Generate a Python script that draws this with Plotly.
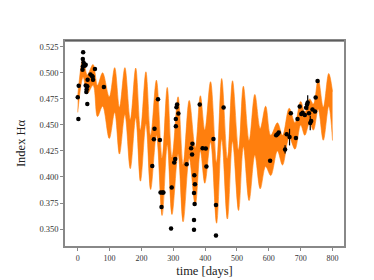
import plotly.graph_objects as go

# observations
obs_t = [0, 2, 3, 15, 16, 16, 17, 18, 20, 22, 25, 25, 27, 28, 30, 30, 31, 40, 45, 47, 48, 54, 82,
         234, 239, 241, 252, 258, 260, 263, 266, 269, 293, 295, 303, 306, 308, 308, 310, 312, 316,
         342, 356, 359, 360, 366, 368, 365, 367, 365, 365, 383, 392, 402, 404, 426, 434, 434, 458,
         604, 623, 627, 631, 651, 656, 665, 669, 685, 690, 697, 702, 706, 713, 717, 720, 722, 726,
         730, 733, 737, 745, 747, 753]
obs_v = [0.4765, 0.4558, 0.4875, 0.5030, 0.5132, 0.5061, 0.5199, 0.5100, 0.5083, 0.5068, 0.4878, 0.5077,
         0.4817, 0.4842, 0.4872, 0.4701, 0.4933, 0.4985, 0.4970, 0.4963, 0.4933, 0.5037, 0.4863,
         0.4106, 0.4362, 0.4463, 0.4746, 0.4355, 0.3850, 0.3712, 0.3850, 0.3850, 0.3504, 0.3900,
         0.4139, 0.4172, 0.4487, 0.4558, 0.4670, 0.4695, 0.4610,
         0.4122, 0.4277, 0.4216, 0.4320, 0.4017, 0.3930, 0.3847, 0.3740, 0.3587, 0.3492, 0.4695,
         0.4276, 0.4274, 0.4100, 0.4365, 0.3730, 0.3437, 0.4667,
         0.4157, 0.4400, 0.4410, 0.4427, 0.4265, 0.4411, 0.4383, 0.4612, 0.4374, 0.4557, 0.4676,
         0.4604, 0.4617, 0.4595, 0.4665, 0.4695, 0.4716, 0.4611, 0.4519, 0.4537, 0.4649, 0.4630,
         0.4763, 0.4921]
obs_e = [0.0015] * len(obs_v)
big_err = {651: 0.004, 665: 0.008, 722: 0.007, 730: 0.007}
for i, t in enumerate(obs_t):
    if t in big_err:
        obs_e[i] = big_err[t]

# prediction band, read at its turning points
band_t = [0, 17, 30, 48, 62, 78, 99, 116, 131, 148, 165, 182, 197, 214, 229, 247, 265, 281, 296,
          315, 331, 350, 369, 385, 399, 417, 436, 452, 470, 486, 505, 520, 538, 556, 573, 590,
          606, 627, 643, 664, 682, 700, 713, 728, 740, 755, 771, 788, 800]
band_hi = [0.478, 0.514, 0.498, 0.508, 0.488, 0.500, 0.477, 0.505, 0.467, 0.505, 0.455, 0.5046,
           0.445, 0.501, 0.440, 0.493, 0.418, 0.486, 0.419, 0.477, 0.412, 0.4735, 0.428, 0.478,
           0.445, 0.4915, 0.414, 0.4945, 0.4176, 0.4924, 0.426, 0.4872, 0.435, 0.4793, 0.4466,
           0.468, 0.440, 0.452, 0.440, 0.466, 0.452, 0.4725, 0.462, 0.475, 0.470, 0.494, 0.467,
           0.4994, 0.482]
band_lo = [0.462, 0.496, 0.480, 0.488, 0.458, 0.468, 0.437, 0.462, 0.422, 0.460, 0.408, 0.457,
           0.396, 0.451, 0.388, 0.440, 0.363, 0.431, 0.364, 0.422, 0.357, 0.418, 0.373, 0.425,
           0.394, 0.4335, 0.3556, 0.4365, 0.3596, 0.434, 0.3678, 0.429, 0.3773, 0.421, 0.3886,
           0.410, 0.4014, 0.425, 0.4115, 0.438, 0.4267, 0.450, 0.440, 0.452, 0.445, 0.465, 0.4353,
           0.468, 0.435]

x_ticks = [0, 100, 200, 300, 400, 500, 600, 700, 800]
y_ticks = [0.350, 0.375, 0.400, 0.425, 0.450, 0.475, 0.500, 0.525]

orange = "#ff7f0e"
fig = go.Figure()
fig.add_trace(go.Scatter(x=band_t, y=band_lo, mode="lines",
                         line=dict(width=0.6, color=orange, shape="spline", smoothing=1.0),
                         showlegend=False, hoverinfo="skip"))
fig.add_trace(go.Scatter(x=band_t, y=band_hi, mode="lines",
                         line=dict(width=0.6, color=orange, shape="spline", smoothing=1.0),
                         fill="tonexty", fillcolor=orange, showlegend=False, hoverinfo="skip"))
fig.add_trace(go.Scatter(x=obs_t, y=obs_v, mode="markers",
                         marker=dict(color="black", size=4.5),
                         error_y=dict(type="data", array=obs_e, color="black", thickness=1.2, width=0),
                         showlegend=False))

font_fam = "Liberation Serif"
fig.update_layout(
    width=374, height=280,
    margin=dict(l=47, r=38, t=33, b=32),
    paper_bgcolor="white", plot_bgcolor="white",
    font=dict(family=font_fam, color="#333"),
    xaxis=dict(range=[-40, 836], tickvals=x_ticks, ticktext=[str(v) for v in x_ticks],
               showgrid=False, zeroline=False, showline=True, linecolor="#888", linewidth=2, mirror=True,
               ticks="outside", ticklen=3, tickcolor="#888", tickfont=dict(size=8, family=font_fam),
               title=dict(text="time [days]", font=dict(size=12.5, family=font_fam, color="#222"), standoff=5)),
    yaxis=dict(range=[0.3337, 0.5306], tickvals=y_ticks, ticktext=[f"{v:.3f}" for v in y_ticks],
               showgrid=False, zeroline=False, showline=True, linecolor="#888", linewidth=1.5, mirror=True,
               ticks="outside", ticklen=3, tickcolor="#888", tickfont=dict(size=8.5, family=font_fam),
               title=dict(text="Index Hα", font=dict(size=12.5, family=font_fam, color="#222"), standoff=11)),
)
fig.add_shape(type="line", xref="paper", yref="paper", x0=0, x1=1, y0=1, y1=1,
              line=dict(color="#333", width=1))
fig.write_html("out.html")
